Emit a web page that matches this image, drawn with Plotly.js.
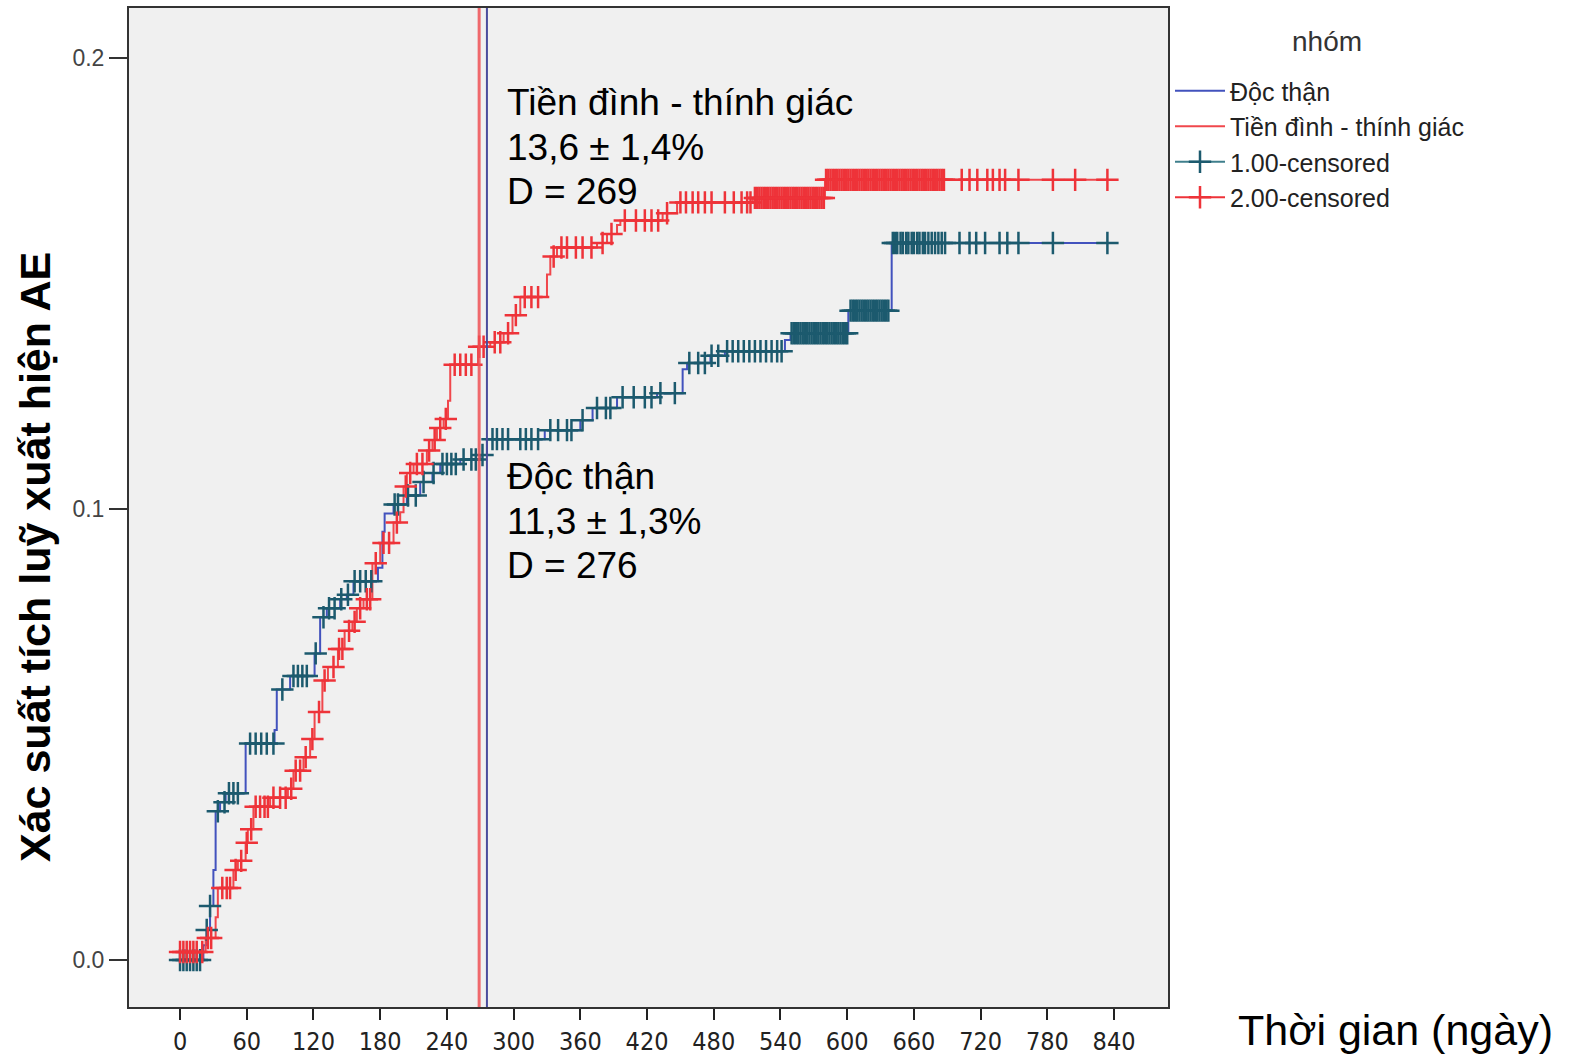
<!DOCTYPE html>
<html>
<head>
<meta charset="utf-8">
<script src="https://cdn.plot.ly/plotly-3.0.1.min.js"></script>
<style>
  html, body { margin: 0; padding: 0; background: #ffffff; }
  #chart { width: 1571px; height: 1059px; }
</style>
</head>
<body>
<div id="chart"></div>
<script>
// ---- Data ----
const seriesNames = ["Độc thận", "Tiền đình - thính giác", "1.00-censored", "2.00-censored"];
const legendTitle = "nhóm";

// Độc thận: step start days and cumulative probability
const blueDays = [0,21,24,27,30,32,36,41,59,85,87,99,121,126,132,144,150,156,178,182,184,192,204,216,227,234,252,270,276,328,360,371,393,429,452,456,477,490,544,549,601,640,834];
const blueVals = [0,0.0033,0.0067,0.012,0.020,0.033,0.035,0.037,0.048,0.051,0.060,0.063,0.068,0.076,0.078,0.080,0.081,0.084,0.087,0.095,0.099,0.101,0.103,0.106,0.108,0.110,0.111,0.112,0.1155,0.1175,0.1197,0.1224,0.1248,0.1257,0.131,0.1324,0.134,0.135,0.1375,0.139,0.144,0.159,0.159];

// Tiền đình - thính giác
const redDays = [0,23,32,34,48,52,59,61,66,81,97,102,111,117,121,128,133,142,148,155,159,165,173,180,192,198,201,204,210,222,227,231,237,241,243,268,279,291,299,306,330,333,339,375,384,393,396,434,447,515,580,834];
const redVals = [0.0018,0.0049,0.0095,0.016,0.020,0.022,0.026,0.029,0.034,0.036,0.038,0.042,0.045,0.049,0.055,0.062,0.065,0.069,0.073,0.075,0.078,0.080,0.088,0.0925,0.097,0.0993,0.105,0.108,0.110,0.113,0.1153,0.118,0.120,0.124,0.132,0.136,0.137,0.139,0.143,0.147,0.152,0.156,0.158,0.159,0.161,0.163,0.164,0.1656,0.168,0.169,0.173,0.173];

// Censored times (days)
const blueCensDays = [0,3,6,9,12,15,18,24,27,34,40,44,48,52,63,68,73,78,84,92,102,106,110,114,122,129,134,139,145,151,157,162,167,172,193,196,205,212,219,228,236,240,244,248,255,262,266,272,281,285,290,295,306,311,316,322,333,340,348,352,362,375,383,387,398,408,418,424,432,445,458,466,472,478,484,492,497,502,507,512,517,522,527,532,537,541,550,552,554,556,558,560,562,564,566,568,570,572,574,576,578,580,582,584,586,588,590,592,594,596,598,600,603,605,607,609,611,613,615,617,619,621,623,625,627,629,631,633,635,637,641,643,645,648,650,653,655,658,660,663,665,668,670,673,676,679,682,685,688,701,710,716,724,737,744,754,785,834];
const redCensDays = [0,3,6,9,12,15,20,25,28,38,42,45,50,55,60,64,68,72,76,79,84,90,95,100,104,108,113,119,125,130,138,143,146,152,157,162,168,171,176,183,188,195,203,207,213,218,224,229,234,239,247,252,257,262,269,273,283,288,295,302,310,316,322,336,343,348,356,362,370,380,388,400,410,418,424,430,438,450,455,461,466,472,478,490,498,505,510,513,517,519,521,523,525,527,529,531,533,535,537,539,541,543,545,547,549,551,553,555,557,559,561,563,565,567,569,571,573,575,577,579,581,583,585,587,589,591,593,595,597,599,601,603,605,607,609,611,613,615,617,619,621,623,625,627,629,631,633,635,637,639,641,643,645,647,649,651,653,655,657,659,661,663,665,667,669,671,673,675,677,679,681,683,685,687,703,710,717,726,731,737,742,754,785,805,834];

// Reference times (vertical lines) and annotation texts
const refDays = [269, 276];
const topNote = ["Tiền đình - thính giác", "13,6 ± 1,4%", "D = 269"];
const bottomNote = ["Độc thận", "11,3 ± 1,3%", "D = 276"];

const xTicks = [0,60,120,180,240,300,360,420,480,540,600,660,720,780,840];
const yTicks = [0, 0.1, 0.2];
const yTickText = ["0.0", "0.1", "0.2"];

// ---- helpers ----
function stepValue(days, vals, d) {
  let v = vals[0];
  for (let i = 0; i < days.length; i++) { if (days[i] <= d) v = vals[i]; else break; }
  return v;
}
function censoredXY(cDays, days, vals) {
  const x = [], y = [];
  cDays.forEach(d => { x.push(d, null); y.push(stepValue(days, vals, d), null); });
  return {x, y};
}

const blueLine = "#4252bd";
const redLine = "#f0474c";
const tealMark = "#1c5a6e";
const redMark = "#ee3339";

const bc = censoredXY(blueCensDays, blueDays, blueVals);
const rc = censoredXY(redCensDays, redDays, redVals);

const traces = [
  { x: blueDays, y: blueVals, name: seriesNames[0], type: "scatter", mode: "lines",
    line: { color: blueLine, width: 2, shape: "hv" } },
  { x: redDays, y: redVals, name: seriesNames[1], type: "scatter", mode: "lines",
    line: { color: redLine, width: 2, shape: "hv" } },
  { x: bc.x, y: bc.y, name: seriesNames[2], type: "scatter", mode: "lines+markers", connectgaps: false,
    line: { color: "#3f7f8c", width: 2 },
    marker: { symbol: "cross-thin", size: 16, color: tealMark, line: { color: tealMark, width: 2.5 } } },
  { x: rc.x, y: rc.y, name: seriesNames[3], type: "scatter", mode: "lines+markers", connectgaps: false,
    line: { color: redMark, width: 2 },
    marker: { symbol: "cross-thin", size: 16, color: redMark, line: { color: redMark, width: 2.5 } } }
];

const L = 129, R = 1168, T = 8, B = 1007;
const px2x = p => (p - L) / (R - L);
const px2y = p => (B - p) / (B - T);

const noteFont = { family: "Liberation Sans, Arial, sans-serif", size: 37, color: "#000" };
const notes = [];
[103, 148, 192].forEach((py, i) => notes.push({ xref: "paper", yref: "paper", x: px2x(505), y: px2y(py),
  xanchor: "left", yanchor: "middle", align: "left", showarrow: false, text: topNote[i], font: noteFont }));
[477, 521, 565].forEach((py, i) => notes.push({ xref: "paper", yref: "paper", x: px2x(505), y: px2y(py),
  xanchor: "left", yanchor: "middle", align: "left", showarrow: false, text: bottomNote[i], font: noteFont }));

const layout = {
  width: 1571, height: 1059, autosize: false,
  margin: { l: L, r: 1571 - R, t: T, b: 1059 - B, pad: 0 },
  paper_bgcolor: "#ffffff",
  plot_bgcolor: "#f0f0f0",
  font: { family: "Liberation Sans, Arial, sans-serif", color: "#222" },
  showlegend: true,
  xaxis: {
    range: [-45.9, 888.5], tickvals: xTicks, ticktext: xTicks.map(String),
    ticks: "outside", ticklen: 11, tickwidth: 2, tickcolor: "#222",
    tickfont: { family: "Liberation Sans Narrow, DejaVu Sans Condensed, Arial Narrow, sans-serif", size: 25, color: "#222" },
    showgrid: false, zeroline: false, showline: true, mirror: true, linecolor: "#333", linewidth: 2
  },
  yaxis: {
    range: [-0.0104, 0.2111], tickvals: yTicks, ticktext: yTickText,
    ticks: "outside", ticklen: 18, tickwidth: 2, tickcolor: "#333",
    tickfont: { family: "Liberation Sans, Arial, sans-serif", size: 23, color: "#444" },
    showgrid: false, zeroline: false, showline: true, mirror: true, linecolor: "#333", linewidth: 2
  },
  legend: {
    x: px2x(1170), y: px2y(68), xanchor: "left", yanchor: "top",
    bgcolor: "rgba(0,0,0,0)", borderwidth: 0,
    font: { family: "Liberation Sans, Arial, sans-serif", size: 25, color: "#222" },
    itemwidth: 50, tracegroupgap: 0
  },
  shapes: [
    { type: "line", xref: "x", yref: "paper", x0: refDays[0], x1: refDays[0], y0: 0, y1: 1,
      line: { color: "rgba(238,80,85,0.85)", width: 3 }, layer: "above" },
    { type: "line", xref: "x", yref: "paper", x0: refDays[1], x1: refDays[1], y0: 0, y1: 1,
      line: { color: "#4a4c9c", width: 2 }, layer: "above" }
  ],
  annotations: notes.concat([
    { xref: "paper", yref: "paper", x: px2x(1327), y: px2y(41), xanchor: "center", yanchor: "middle",
      showarrow: false, text: legendTitle,
      font: { family: "Liberation Sans, Arial, sans-serif", size: 28, color: "#333" } },
    { xref: "paper", yref: "paper", x: px2x(35), y: px2y(557), xanchor: "center", yanchor: "middle",
      textangle: -90, showarrow: false,
      text: "<b>Xác suất tích luỹ xuất hiện AE</b>",
      font: { family: "Liberation Sans, Arial, sans-serif", size: 43, color: "#000" } },
    { xref: "paper", yref: "paper", x: px2x(1395), y: px2y(1030), xanchor: "center", yanchor: "middle",
      showarrow: false,
      text: "Thời gian (ngày)",
      font: { family: "Liberation Sans, Arial, sans-serif", size: 43, color: "#000" } }
  ])
};

Plotly.newPlot("chart", traces, layout, { staticPlot: true, displayModeBar: false });
</script>
</body>
</html>
